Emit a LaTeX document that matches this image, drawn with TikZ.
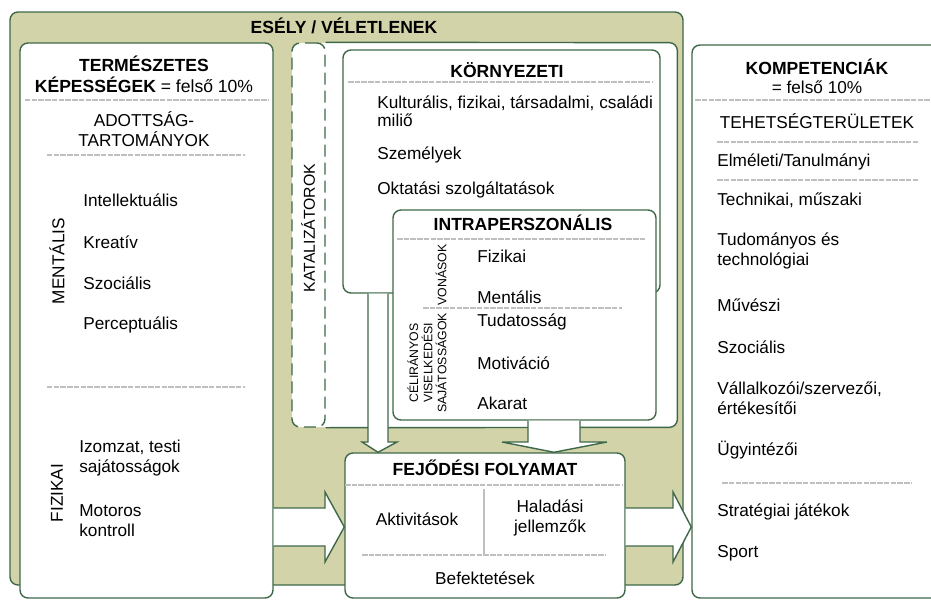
\documentclass[tikz,border=0pt]{standalone}
\usepackage{fontspec}
\setmainfont{Liberation Sans}
\usetikzlibrary{fit, positioning}

\definecolor{eselyszin}{RGB}{211,211,170}
\definecolor{keretzold}{RGB}{62,104,72}

\tikzset{
  keret/.style={draw=keretzold, line width=0.8pt, rounded corners=1.6mm, inner sep=0pt},
  feher/.style={keret, fill=white},
  valaszto/.style={draw=gray!50, line width=0.7pt, dash pattern=on 1.1mm off 0.25mm},
  cim/.style={font=\bfseries},
  tetel/.style={anchor=west, align=left, inner xsep=0pt},
  kicsi/.style={font=\fontsize{7}{8}\selectfont},
  nyil/.style={fill=white, draw=keretzold, line width=0.8pt},
}

\begin{document}
\begin{tikzpicture}[x=0.02cm, y=-0.02cm, font=\fontsize{9.8}{11.5}\selectfont]
    \useasboundingbox (0,0) rectangle (931,602);

    % esely / veletlenek
    \node[keret, fill=eselyszin, fit={(10,12) (683,585)}] (esely) {};
    \node[cim] (eselycim) at (344,26) {ESÉLY / VÉLETLENEK};

    % termeszetes kepessegek
    \node[feher, fit={(20,43) (273,598)}] (kepesseg) {};
    \node[cim, align=center] (kepcim) at (144,74) {TERMÉSZETES\\KÉPESSÉGEK {\normalfont = felső 10\%}};
    \draw[valaszto] (25,100) -- (268,100);
    \node[align=center] (adottsag) at (144,129) {ADOTTSÁG-\\TARTOMÁNYOK};
    \draw[valaszto] (47,155) -- (245,155);
    \node[rotate=90] (mentalis) at (57,261) {MENTÁLIS};
    \node[tetel] (intell) at (83,200) {Intellektuális};
    \node[tetel] (kreativ) at (83,242) {Kreatív};
    \node[tetel] (szoc) at (83,283) {Szociális};
    \node[tetel] (percept) at (83,325) {Perceptuális};
    \draw[valaszto] (47,387) -- (245,387);
    \node[rotate=90] (fizikai) at (57,493) {FIZIKAI};
    \node[tetel] (izomzat) at (79,458) {Izomzat, testi\\sajátosságok};
    \node[tetel] (motoros) at (79,521) {Motoros\\kontroll};

    % katalizatorok
    \node[fill=white, rounded corners=1.6mm, inner sep=0pt, fit={(292,43) (677,427)}] (katal) {};
    \node[keret, dashed, dash pattern=on 2.4mm off 1.2mm, fit={(292,43) (325,427)}] (katsav) {};
    \draw[draw=keretzold, line width=0.8pt, rounded corners=1.6mm]
        (katsav.north east) -- (katal.north east) -- (katal.south east) -- (katsav.south east);
    \node[rotate=90, font=\fontsize{9}{10}\selectfont] (katcim) at (308,228) {KATALIZÁTOROK};

    % kornyezeti
    \node[feher, fit={(343,50) (660,293)}] (kornyezet) {};
    \node[cim] (korncim) at (507,70) {KÖRNYEZETI};
    \draw[valaszto] (348,82) -- (653,82);
    \node[tetel, font=\fontsize{9.8}{10}\selectfont] (kultura) at (377,111) {Kulturális, fizikai, társadalmi, családi\\miliő};
    \node[tetel] (szemelyek) at (377,155) {Személyek};
    \node[tetel] (oktatas) at (377,190) {Oktatási szolgáltatások};

    % intraperszonalis
    \node[feher, fit={(393,210) (656,420)}] (intra) {};
    \node[cim] (intracim) at (523,223) {INTRAPERSZONÁLIS};
    \draw[valaszto] (397,239) -- (645,239);
    \node[rotate=90, kicsi] (vonasok) at (441,275) {VONÁSOK};
    \node[tetel] (ifizikai) at (477,256) {Fizikai};
    \node[tetel] (imentalis) at (477,297) {Mentális};
    \draw[valaszto] (423,308) -- (622,308);
    \node[rotate=90, kicsi, align=center] (celiranyos) at (427,363) {CÉLIRÁNYOS\\VISELKEDÉSI\\SAJÁTOSSÁGOK};
    \node[tetel] (tudatos) at (477,322) {Tudatosság};
    \node[tetel] (motivacio) at (477,363) {Motiváció};
    \node[tetel] (akarat) at (477,403) {Akarat};

    % fejlodesi folyamat
    \node[feher, fit={(345,453) (625,598)}] (fejlodes) {};
    \node[cim] (fejcim) at (485,468) {FEJŐDÉSI FOLYAMAT};
    \draw[valaszto] (345,485) -- (622,485);
    \draw[draw=gray!50, line width=0.7pt] (484,489) -- (484,555);
    \node (aktiv) at (417,519) {Aktivitások};
    \node[align=center] (haladas) at (550,518) {Haladási\\jellemzők};
    \draw[valaszto] (362,555) -- (605,555);
    \node (befekt) at (485,578) {Befektetések};

    % kompetenciak
    \node[feher, fit={(692,45) (940,598)}] (kompetencia) {};
    \node[cim] (kompcim) at (817,67) {KOMPETENCIÁK};
    \node (felso) at (817,87) {= felső 10\%};
    \draw[valaszto] (695,100) -- (931,100);
    \node (teruletek) at (817,121) {TEHETSÉGTERÜLETEK};
    \draw[valaszto] (717,142) -- (918,142);
    \node[tetel] (elmeleti) at (717,162) {Elméleti/Tanulmányi};
    \draw[valaszto] (717,180) -- (918,180);
    \node[tetel] (technikai) at (717,200) {Technikai, műszaki};
    \node[tetel] (tudomanyos) at (717,251) {Tudományos és\\technológiai};
    \node[tetel] (muveszi) at (717,305) {Művészi};
    \node[tetel] (kszocialis) at (717,347) {Szociális};
    \node[tetel] (vallalkozoi) at (717,398) {Vállalkozói/szervezői,\\értékesítői};
    \node[tetel] (ugyintezoi) at (717,450) {Ügyintézői};
    \draw[valaszto] (722,483) -- (912,483);
    \node[tetel] (strategiai) at (717,512) {Stratégiai játékok};
    \node[tetel] (sport) at (717,553) {Sport};

    % nyilak
    \draw[nyil] (kepesseg.east |- 0,508) -- (325,508) -- (325,492) -- (fejlodes.west |- 0,527)
        -- (325,562) -- (325,546) -- (kepesseg.east |- 0,546);
    \draw[nyil] (fejlodes.east |- 0,508) -- (673,508) -- (673,492) -- (kompetencia.west |- 0,527)
        -- (673,562) -- (673,546) -- (fejlodes.east |- 0,546);
    \draw[nyil] (kornyezet.south -| 368,0) -- (368,442) -- (362,442) -- (fejlodes.north -| 378,0)
        -- (397,442) -- (388,442) -- (kornyezet.south -| 388,0);
    \draw[nyil] (intra.south -| 528,0) -- (528,442) -- (502,442) -- (fejlodes.north -| 554,0)
        -- (607,442) -- (580,442) -- (intra.south -| 580,0);

\end{tikzpicture}
\end{document}
